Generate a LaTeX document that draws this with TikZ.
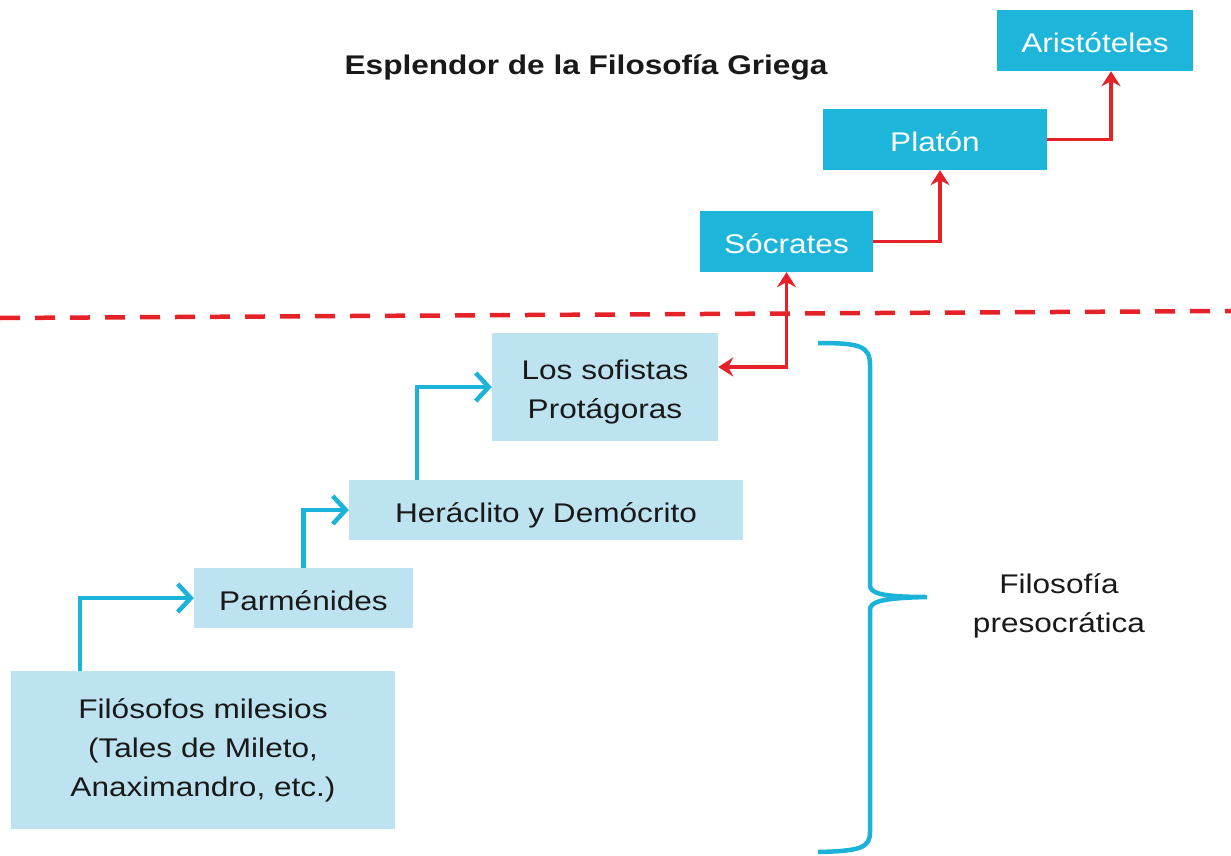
\documentclass[tikz,border=0pt]{standalone}
\usepackage{fontspec}
\setmainfont[FakeStretch=1.17]{Liberation Sans}
\usepackage{tikz}
\usetikzlibrary{arrows.meta}
\definecolor{cajaclara}{RGB}{190,227,240}
\definecolor{cajaoscura}{RGB}{29,181,217}
\definecolor{azulflecha}{RGB}{27,180,216}
\definecolor{rojoflecha}{RGB}{228,34,40}
\tikzset{
	texto/.style={font=\fontsize{27}{39}\selectfont, align=center, inner sep=0pt},
	clara/.style={texto, fill=cajaclara, text=black!90},
	oscura/.style={texto, fill=cajaoscura, text=white},
	linea/.style={text height=24pt, text depth=0pt},
	azul/.style={draw=azulflecha, line width=4.5pt, -{Straight Barb[length=13pt, width=28pt, line width=4.5pt]}},
	rojo/.style={draw=rojoflecha, line width=3.2pt},
	punta/.tip={Stealth[length=15pt, width=19pt, inset=5pt]}
}

\begin{document}
\begin{tikzpicture}[x=1pt, y=-1pt]
			\useasboundingbox (0,0) rectangle (1231,856);
			\node[texto, anchor=base, font=\fontsize{27}{39}\selectfont\bfseries, text=black!90] (titulo) at (586,75) {Esplendor de la Filosofía Griega};
			\node[clara, minimum width=384pt, minimum height=158pt] (milesios) at (203,750) {Filósofos milesios\\(Tales de Mileto,\\Anaximandro, etc.)};
			\node[clara, linea, minimum width=219pt, minimum height=60pt] (parmenides) at (303.5,598) {Parménides};
			\node[clara, linea, minimum width=394pt, minimum height=60pt] (heraclito) at (546,510) {Heráclito y Demócrito};
			\node[clara, minimum width=226pt, minimum height=108pt] (sofistas) at (605,387) {\rule{0pt}{30pt}Los sofistas\\Protágoras};
			\node[oscura, linea, minimum width=173pt, minimum height=61pt] (socrates) at (786.5,241.5) {Sócrates};
			\node[oscura, linea, minimum width=224pt, minimum height=61pt] (platon) at (935,139.5) {Platón};
			\node[oscura, linea, minimum width=196pt, minimum height=61pt] (aristoteles) at (1095,40.5) {Aristóteles};
			\node[texto, text=black!90] (presocratica) at (1059,606) {Filosofía\\presocrática};
			\draw[rojoflecha, line width=4.5pt, dash pattern=on 20pt off 15pt] (0,318) -- (1231,311);
			\draw[azul] ([xshift=69pt]milesios.north west) |- (parmenides.west);
			\draw[azul] (parmenides.north) |- (heraclito.west);
			\draw[azul] ([xshift=68pt]heraclito.north west) |- (sofistas.west);
			\draw[rojo, punta-punta] ([yshift=20pt]sofistas.east) -| (socrates.south);
			\draw[rojo, -punta] (socrates.east) -| ([xshift=5pt]platon.south);
			\draw[rojo, -punta] (platon.east) -| ([xshift=16pt]aristoteles.south);
			\draw[azulflecha, line width=4.5pt] (818,343) .. controls (860,343) and (870,346) .. (870,365) -- (870,585) .. controls (870,593) and (880,597) .. (927,597) .. controls (880,598) and (870,602) .. (870,610) -- (870,832) .. controls (870,848) and (860,851) .. (818,852);
	\end{tikzpicture}
\end{document}
